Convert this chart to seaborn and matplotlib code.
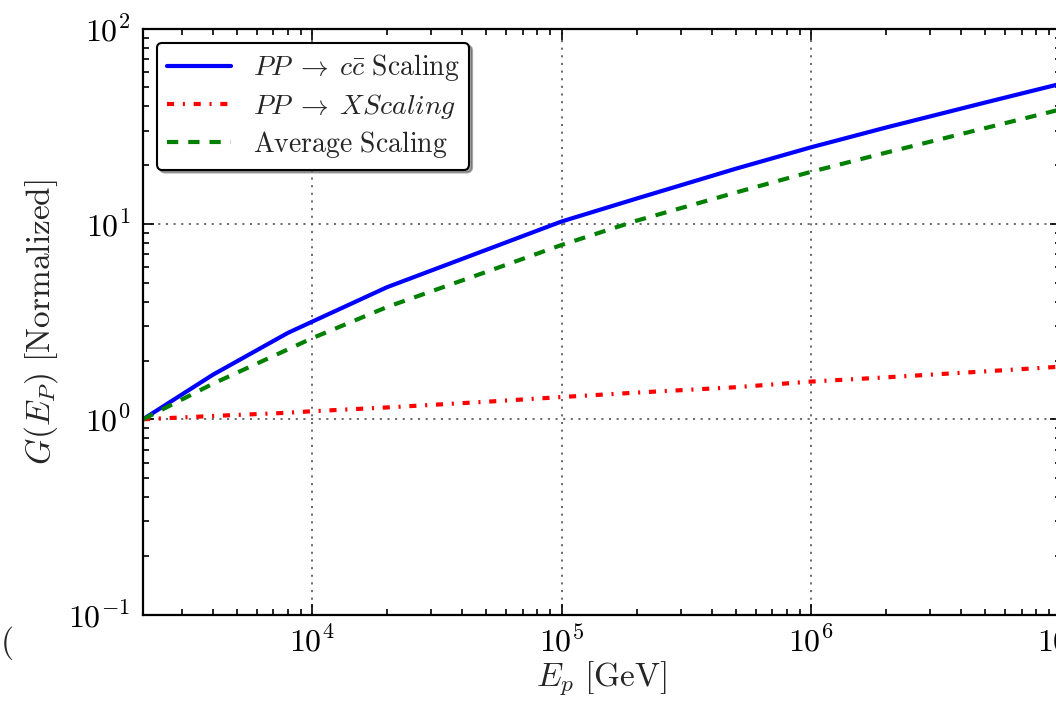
import numpy as np
import pandas as pd
import matplotlib
matplotlib.use("Agg")
import matplotlib.pyplot as plt
from matplotlib.ticker import FuncFormatter
import seaborn as sns

# ---- data ----
energy = [2.1e3, 4e3, 8e3, 1e4, 2e4, 5e4, 1e5, 2e5, 5e5, 1e6, 2e6, 5e6, 1e7]
g_ccbar = [1.0, 1.69, 2.77, 3.16, 4.75, 7.38, 10.3, 13.5, 19.2, 24.7, 31.2, 41.9, 52.2]
g_x = [1.00, 1.04, 1.08, 1.10, 1.15, 1.23, 1.30, 1.37, 1.46, 1.56, 1.64, 1.76, 1.86]
g_avg = [1.0, 1.52, 2.28, 2.60, 3.76, 5.69, 7.81, 10.4, 14.5, 18.5, 23.2, 31.0, 38.6]

labels = [r'$PP \;\rightarrow\; c\bar{c}\ \mathrm{Scaling}$',
          r'$PP \;\rightarrow\; XScaling$',
          r'$\mathrm{Average\ Scaling}$']
colors = ['blue', 'red', 'green']
styles = ['-', (0, (1.7, 2.1, 0.5, 2.1)), (0, (2.7, 2.4))]
widths = [3.0, 3.0, 3.0]

sns.set_style("ticks")
plt.rcParams['mathtext.fontset'] = 'cm'
plt.rcParams['font.family'] = ['DejaVu Serif']

fig = plt.figure(figsize=(10.56, 7.03), dpi=100)
ax = fig.add_axes([143 / 1056, 1 - 614.6 / 703, (1060.5 - 143) / 1056, (614.6 - 28.7) / 703])

for ys, lab, c, ls, lw in zip([g_ccbar, g_x, g_avg], labels, colors, styles, widths):
    df = pd.DataFrame({'E': energy, 'G': ys})
    sns.lineplot(data=df, x='E', y='G', ax=ax, color=c, linestyle=ls, linewidth=lw, label=lab)

ax.set_xscale('log')
ax.set_yscale('log')
ax.set_xlim(2100, 1e7)
ax.set_ylim(0.1, 100)

fmt = FuncFormatter(lambda v, p: r'$10^{%d}$' % int(round(np.log10(v))))
ax.xaxis.set_major_formatter(fmt)
ax.yaxis.set_major_formatter(fmt)

ax.grid(True, which='major', color='0.35', linestyle=(0, (1.2, 3.2)), linewidth=1.25)
ax.tick_params(which='both', direction='in', top=True, right=True, width=1.2, colors='black')
ax.tick_params(which='major', length=8, labelsize=23, pad=9)
ax.tick_params(which='minor', length=4)
for s in ax.spines.values():
    s.set_linewidth(1.6)
    s.set_color('black')

ax.set_xlabel(r'$E_p\ [\mathrm{GeV}]$', fontsize=24, labelpad=0)
ax.set_ylabel(r'$G(E_P)\ [\mathrm{Normalized}]$', fontsize=24, labelpad=6)

leg = ax.legend(loc='upper left', fancybox=True, shadow=True, framealpha=1,
                fontsize=20, handlelength=2.3, borderaxespad=0.5,
                labelspacing=0.3, borderpad=0.35)
leg.get_frame().set_edgecolor('black')
leg.get_frame().set_linewidth(1.5)

fig.text(0.0, 1 - 643 / 703, r'$($', fontsize=24, va='center', ha='left')

fig.savefig('out.png', dpi=100)
